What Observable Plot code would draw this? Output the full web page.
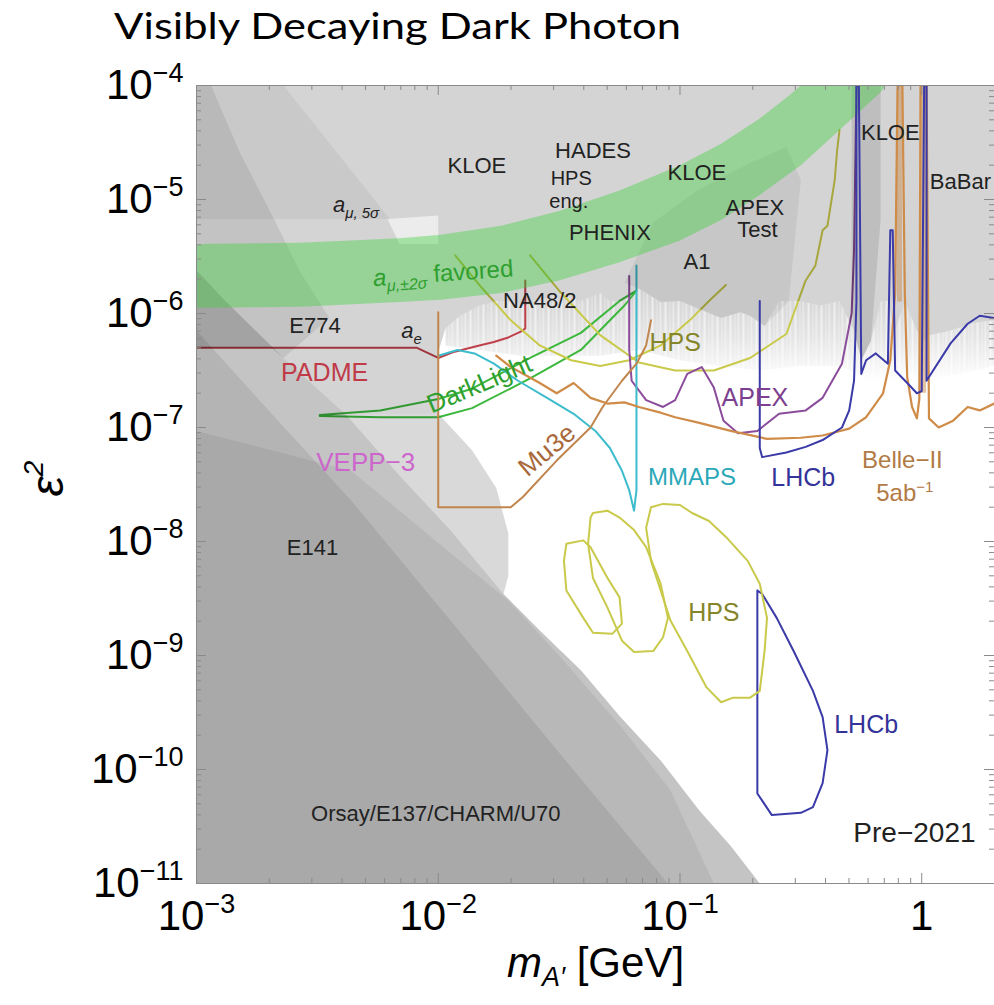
<!DOCTYPE html>
<html><head><meta charset="utf-8">
<script src="https://cdn.jsdelivr.net/npm/d3@7"></script>
<script src="https://cdn.jsdelivr.net/npm/@observablehq/plot@0.6"></script>
<style>
body{margin:0;background:#fff;}
#chart{position:relative;width:994px;height:1005px;}
</style></head><body><div id="chart"></div>
<script>
// All points are [log10(m_A' / GeV), log10(eps^2)].
const xTicks = [1e-3, 1e-2, 1e-1, 1];
const yTicks = [1e-4, 1e-5, 1e-6, 1e-7, 1e-8, 1e-9, 1e-10, 1e-11];

// lower (jagged) edge of the upper excluded envelope, from right to left
const envelopeEdge = [[0.30,-6.06],[0.22,-6.08],[0.12,-6.15],[0.03,-6.19],[0.01,-6.24],[-0.02,-6.15],[-0.07,-5.89],[-0.11,-6.15],[-0.14,-5.89],[-0.17,-5.89],[-0.21,-6.24],[-0.25,-6.41],[-0.28,-6.15],[-0.34,-5.89],[-0.42,-5.93],[-0.50,-5.89],[-0.59,-5.89],[-0.65,-6.11],[-0.71,-6.02],[-0.75,-5.99],[-0.83,-6.04],[-0.92,-5.96],[-1.00,-5.89],[-1.08,-5.90],[-1.17,-5.78],[-1.23,-5.89],[-1.29,-5.89],[-1.33,-5.82],[-1.41,-5.89],[-1.50,-5.82],[-1.58,-5.89],[-1.64,-5.93],[-1.70,-5.89],[-1.76,-5.89],[-1.83,-5.93],[-1.91,-6.02],[-1.97,-6.13]];
// lower edge of the faint spiky zone under the envelope, left to right
const fuzzLower = [[-1.97,-6.28],[-1.83,-6.32],[-1.66,-6.37],[-1.50,-6.37],[-1.33,-6.37],[-1.17,-6.32],[-1.00,-6.41],[-0.83,-6.46],[-0.67,-6.50],[-0.50,-6.46],[-0.34,-6.46],[-0.21,-6.59],[-0.09,-6.59],[0.03,-6.59],[0.30,-6.46]];
const topCorners = [[-3.00,-4.00],[0.30,-4.00]];
const aeEdge = [[-2.00,-6.34],[-2.03,-6.30],[-3.00,-6.30]];
const aMu5Region = [[-3.00,-4.00],[-2.64,-4.00],[-2.20,-5.17],[-3.00,-5.17]];
const leftWedge = [[-3.00,-4.00],[-2.94,-4.00],[-2.82,-4.59],[-2.68,-5.17],[-2.57,-5.64],[-2.45,-6.04],[-2.64,-6.39],[-2.89,-5.87],[-3.00,-5.62]];
const gapPatch = [[-2.21,-5.17],[-2.00,-5.14],[-2.00,-5.39],[-2.16,-5.39]];
const padmeArea = [[-2.69,-6.30],[-2.03,-6.30],[-2.00,-6.34],[-2.00,-6.88],[-2.38,-6.89],[-2.64,-6.39]];
const beamDump = [[-3.00,-5.62],[-2.89,-5.87],[-2.64,-6.39],[-2.38,-6.89],[-2.16,-7.42],[-1.95,-7.90],[-1.73,-8.46],[-1.58,-8.78],[-1.41,-9.13],[-1.25,-9.53],[-1.08,-9.92],[-0.92,-10.36],[-0.79,-10.67],[-0.67,-11.00],[-3.00,-11.00]];
const beamCore = [[-3.00,-6.15],[-2.74,-6.76],[-2.36,-7.64],[-1.95,-8.69],[-1.54,-9.75],[-1.05,-11.00],[-3.00,-11.00]];
const e137 = [[-3.00,-7.03],[-2.36,-7.38],[-1.71,-8.52],[-1.50,-9.00],[-1.25,-9.61],[-1.04,-10.18],[-0.86,-11.00],[-3.00,-11.00]];
const vepp3Lens = [[-2.38,-6.89],[-2.00,-6.88],[-1.86,-7.20],[-1.76,-7.53],[-1.71,-7.93],[-1.71,-8.30],[-1.73,-8.46],[-1.95,-7.90],[-2.16,-7.42]];
const a1Region = [[-1.23,-5.73],[-1.11,-5.20],[-0.93,-4.92],[-0.71,-4.68],[-0.56,-4.54],[-0.50,-4.83],[-0.55,-5.89],[-0.65,-6.11],[-0.71,-6.02],[-0.75,-5.99],[-0.83,-6.04],[-0.92,-5.96],[-1.00,-5.89],[-1.08,-5.90],[-1.17,-5.78]];
const kloeEta = [[-0.29,-4.00],[-0.17,-4.00],[-0.17,-5.18],[-0.21,-6.24],[-0.25,-6.41],[-0.28,-6.15],[-0.29,-5.89]];

// a_mu +-2 sigma favoured band
const aMuUpper = [[-3.00,-5.39],[-2.57,-5.38],[-2.16,-5.34],[-1.99,-5.31],[-1.74,-5.23],[-1.50,-5.10],[-1.25,-4.92],[-1.00,-4.70],[-0.83,-4.51],[-0.67,-4.29],[-0.55,-4.09],[-0.50,-4.00]];
const aMuLower = [[-3.00,-5.95],[-2.57,-5.94],[-2.16,-5.90],[-1.99,-5.88],[-1.74,-5.82],[-1.50,-5.71],[-1.25,-5.55],[-1.00,-5.36],[-0.83,-5.18],[-0.67,-4.96],[-0.50,-4.70],[-0.34,-4.39],[-0.17,-4.06],[-0.15,-4.00]];

// projections / curves
const padme = [[-3.00,-6.30],[-2.09,-6.30],[-2.00,-6.39],[-1.94,-6.34],[-1.83,-6.28],[-1.77,-6.25],[-1.71,-6.21],[-1.65,-6.15],[-1.64,-6.13],[-1.64,-5.71]];
const darkLight = [[-2.49,-6.89],[-2.24,-6.85],[-2.00,-6.75],[-1.86,-6.66],[-1.62,-6.39],[-1.41,-6.17],[-1.25,-5.89],[-1.18,-5.80],[-1.23,-5.93],[-1.41,-6.32],[-1.62,-6.57],[-1.86,-6.83],[-2.00,-6.91],[-2.24,-6.91],[-2.49,-6.90],[-2.49,-6.89]];
const mu3e = [[-2.00,-5.99],[-2.00,-7.70],[-1.70,-7.70],[-1.65,-7.61],[-1.51,-7.29],[-1.37,-7.00],[-1.32,-6.82],[-1.24,-6.59],[-1.18,-6.44],[-1.14,-6.28],[-1.12,-6.06]];
const belle2 = [[-1.76,-6.37],[-1.70,-6.47],[-1.64,-6.54],[-1.58,-6.61],[-1.51,-6.70],[-1.44,-6.61],[-1.37,-6.74],[-1.30,-6.79],[-1.23,-6.78],[-1.17,-6.82],[-1.08,-6.87],[-1.02,-6.91],[-0.92,-6.96],[-0.79,-7.03],[-0.64,-7.10],[-0.50,-7.09],[-0.41,-7.07],[-0.30,-7.01],[-0.23,-6.91],[-0.16,-6.70],[-0.13,-6.41],[-0.11,-5.82],[-0.10,-4.00],[-0.08,-4.00],[-0.07,-5.82],[-0.06,-6.56],[-0.04,-6.82],[-0.02,-6.92],[-0.01,-6.75],[-0.005,-4.00],[0.02,-4.00],[0.03,-6.92],[0.07,-7.00],[0.13,-6.94],[0.19,-6.82],[0.24,-6.85],[0.30,-6.79]];
const belleSpikes = [[-0.10,-0.08,-5.9],[-0.005,0.02,-6.7]];
const lhcb = [[-0.67,-5.89],[-0.67,-7.18],[-0.66,-7.26],[-0.56,-7.22],[-0.48,-7.17],[-0.41,-7.11],[-0.33,-7.00],[-0.30,-6.85],[-0.28,-6.59],[-0.27,-5.89],[-0.27,-4.00],[-0.26,-4.00],[-0.25,-6.53],[-0.23,-6.41],[-0.19,-6.35],[-0.14,-6.44],[-0.13,-5.27],[-0.12,-5.27],[-0.11,-6.50],[-0.06,-6.61],[-0.02,-6.70],[0.00,-6.68],[0.01,-4.00],[0.02,-4.00],[0.02,-6.59],[0.12,-6.26],[0.19,-6.09],[0.24,-6.02],[0.30,-6.04]];
const lhcbDisplaced = [[-0.68,-8.43],[-0.68,-10.21],[-0.62,-10.40],[-0.50,-10.38],[-0.45,-10.33],[-0.41,-10.12],[-0.39,-9.83],[-0.41,-9.54],[-0.45,-9.31],[-0.53,-8.96],[-0.60,-8.67],[-0.66,-8.46],[-0.68,-8.43]];
const mmaps = [[-2.00,-6.37],[-1.92,-6.32],[-1.85,-6.35],[-1.77,-6.44],[-1.67,-6.59],[-1.55,-6.74],[-1.44,-6.88],[-1.35,-7.03],[-1.29,-7.18],[-1.24,-7.38],[-1.21,-7.55],[-1.19,-7.73],[-1.18,-7.55],[-1.18,-5.58]];
const apex = [[-1.21,-5.67],[-1.21,-6.32],[-1.20,-6.59],[-1.14,-6.76],[-1.07,-6.82],[-1.02,-6.76],[-0.97,-6.53],[-0.91,-6.47],[-0.86,-6.65],[-0.82,-6.94],[-0.76,-7.05],[-0.68,-7.03],[-0.59,-6.88],[-0.48,-6.85],[-0.41,-6.74],[-0.33,-6.44],[-0.29,-6.00],[-0.28,-5.45],[-0.27,-4.00]];
const hps1 = [[-1.93,-5.49],[-1.83,-5.75],[-1.70,-6.06],[-1.58,-6.28],[-1.45,-6.41],[-1.33,-6.46],[-1.21,-6.41],[-1.08,-6.28],[-0.96,-6.06],[-0.88,-5.89],[-0.81,-5.75]];
const hps2 = [[-1.62,-5.49],[-1.50,-5.80],[-1.33,-6.19],[-1.17,-6.43],[-1.02,-6.50],[-0.86,-6.50],[-0.71,-6.39],[-0.56,-6.18],[-0.48,-5.71],[-0.44,-5.58],[-0.41,-5.27],[-0.39,-5.23],[-0.36,-4.83],[-0.35,-4.57],[-0.34,-4.39]];
const hpsLoopA = [[-1.47,-8.02],[-1.40,-7.99],[-1.37,-8.05],[-1.30,-8.32],[-1.25,-8.49],[-1.24,-8.72],[-1.28,-8.81],[-1.36,-8.80],[-1.40,-8.67],[-1.47,-8.43],[-1.48,-8.17],[-1.47,-8.02]];
const hpsLoopB = [[-1.36,-7.75],[-1.30,-7.73],[-1.25,-7.79],[-1.19,-7.90],[-1.14,-8.05],[-1.08,-8.37],[-1.05,-8.67],[-1.07,-8.84],[-1.11,-8.96],[-1.19,-8.97],[-1.24,-8.87],[-1.30,-8.58],[-1.36,-8.32],[-1.38,-8.02],[-1.37,-7.79],[-1.36,-7.75]];
const hpsLoopC = [[-1.12,-7.70],[-1.07,-7.67],[-1.00,-7.68],[-0.95,-7.75],[-0.88,-7.82],[-0.81,-7.96],[-0.72,-8.17],[-0.67,-8.37],[-0.64,-8.67],[-0.65,-8.96],[-0.67,-9.31],[-0.71,-9.37],[-0.78,-9.37],[-0.83,-9.41],[-0.89,-9.28],[-0.97,-8.96],[-1.04,-8.69],[-1.08,-8.43],[-1.12,-8.17],[-1.14,-7.88],[-1.12,-7.70]];

// labels: [text, log10 m, log10 eps^2]
const labelsDark = [["KLOE",-1.84,-4.71],["HADES",-1.36,-4.57],["KLOE",-0.93,-4.77],["PHENIX",-1.29,-5.29],["APEX",-0.69,-5.07],["Test",-0.68,-5.27],["A1",-0.93,-5.55],["NA48/2",-1.58,-5.89],["KLOE",-0.13,-4.42],["BaBar",0.16,-4.85],["E774",-2.51,-6.11],["E141",-2.52,-8.06],["Orsay/E137/CHARM/U70",-2.01,-10.39]];
const labelsHpsEng = [["HPS",-1.45,-4.82],["eng.",-1.46,-5.02]];
const labelsRich = [["aMu5",-2.34,-5.05],["aE",-2.11,-6.15]];
const labelFavored = [["aMu2",-1.98,-5.65]];
const labelPre = [["Pre−2021",-0.03,-10.56]];
const labelsPadme = [["PADME",-2.47,-6.52]];
const labelsVepp = [["VEPP−3",-2.30,-7.31]];
const labelsHps = [["HPS",-1.02,-6.26],["HPS",-0.86,-8.63]];
const labelsApex = [["APEX",-0.69,-6.74]];
const labelsMmaps = [["MMAPS",-0.95,-7.44]];
const labelsLhcb = [["LHCb",-0.49,-7.44],["LHCb",-0.23,-9.61]];
const labelsBelle = [["Belle−II",-0.08,-7.29],["b5ab",-0.07,-7.58]];
const labelDarkLight = [["DarkLight",-1.83,-6.62]];
const labelMu3e = [["Mu3e",-1.55,-7.20]];

// ---------------------------------------------------------------
const P = a => a.map(([lm, le]) => ({m: 10 ** lm, e: 10 ** le}));
const poly = (arr, o) => Plot.line(P(arr), {x: "m", y: "e", stroke: "none", clip: true, ...o});
const curve = (arr, color, o = {}) => Plot.line(P(arr), {x: "m", y: "e", fill: "none", stroke: color, strokeWidth: 2, strokeLinejoin: "round", clip: true, ...o});
const lab = (arr, o) => Plot.text(arr, {x: d => 10 ** d[1], y: d => 10 ** d[2], text: d => d[0], fontSize: 22, fill: "#222", ...o});

const topBand = [...topCorners, ...envelopeEdge, ...aeEdge];
const fuzz = [...envelopeEdge, ...fuzzLower];
const greenBand = [...aMuUpper, ...aMuLower.slice().reverse()];

const minorX = [], minorY = [];
for (let k = -3; k <= 0; k++) for (let j = 2; j <= 9; j++) { const v = j * 10 ** k; if (v <= 2) minorX.push(v); }
for (let k = -11; k <= -5; k++) for (let j = 2; j <= 9; j++) minorY.push(j * 10 ** k);
const innerH = 798, innerW = 798;
const tickColor = "#8a8a8a";
const supFmt = d => d === 1 ? "1" : "10^" + Math.round(Math.log10(d));

const plot = Plot.plot({
  width: 994, height: 1005,
  marginLeft: 196, marginRight: 0, marginTop: 85, marginBottom: 122,
  x: {type: "log", domain: [1e-3, 2], label: null},
  y: {type: "log", domain: [1e-11, 1e-4], label: null},
  style: {fontFamily: "'Liberation Sans', Arial, sans-serif", background: "white", color: "black"},
  marks: [
    poly(fuzz, {fill: "url(#fuzzGrad)"}),
    poly(fuzz, {fill: "url(#spikes)"}),
    curve(padme, "#c0404c"),
    poly(darkLight, {stroke: "#3cb83c", strokeWidth: 2, fill: "none"}),
    curve(hps1, "#c9c94a"),
    curve(hps2, "#c9c94a"),
    curve(apex, "#8c4c9c"),
    curve(mmaps, "#3cbccc"),
    poly(topBand, {fill: "#000", fillOpacity: 0.17}),
    poly(aMu5Region, {fill: "#000", fillOpacity: 0.05}),
    poly(leftWedge, {fill: "#000", fillOpacity: 0.08}),
    poly(gapPatch, {fill: "#fff", fillOpacity: 0.55}),
    poly(padmeArea, {fill: "#000", fillOpacity: 0.17}),
    poly(beamDump, {fill: "#000", fillOpacity: 0.23}),
    poly(beamCore, {fill: "#000", fillOpacity: 0.08}),
    poly(e137, {fill: "#000", fillOpacity: 0.06}),
    poly(vepp3Lens, {fill: "#000", fillOpacity: 0.15}),
    poly(a1Region, {fill: "#000", fillOpacity: 0.06}),
    poly(kloeEta, {fill: "#000", fillOpacity: 0.1}),
    poly(greenBand, {fill: "#3cd23c", fillOpacity: 0.4}),
    curve(mu3e, "#c0864e"),
    Plot.rect(belleSpikes, {x1: d => 10 ** d[0], x2: d => 10 ** d[1], y1: d => 10 ** d[2], y2: 1e-4, fill: "#c8925c", fillOpacity: 0.55, clip: true}),
    curve(belle2, "#cf8b48", {strokeWidth: 2.2}),
    curve(lhcb, "#3a3aa8"),
    curve(lhcbDisplaced, "#3a3aa8"),
    curve(hpsLoopA, "#c9c94a"),
    curve(hpsLoopB, "#c9c94a"),
    curve(hpsLoopC, "#c9c94a"),
    lab(labelsDark, {}),
    lab(labelsHpsEng, {fontSize: 20}),
    lab(labelsRich, {fontStyle: "italic", fontSize: 22}),
    lab(labelFavored, {fill: "#2f9f2f", fontSize: 24, rotate: -4}),
    lab(labelPre, {fontSize: 28}),
    lab(labelsPadme, {fill: "#c03a48", fontSize: 25}),
    lab(labelsVepp, {fill: "#cc66cc", fontSize: 26}),
    lab(labelsHps, {fill: "#85852a", fontSize: 25}),
    lab(labelsApex, {fill: "#7d3f8f", fontSize: 25}),
    lab(labelsMmaps, {fill: "#2aa8b8", fontSize: 24}),
    lab(labelsLhcb, {fill: "#333399", fontSize: 25}),
    lab(labelsBelle, {fill: "#b27a45", fontSize: 24}),
    lab(labelDarkLight, {fill: "#2f9f2f", fontSize: 26, rotate: -23}),
    lab(labelMu3e, {fill: "#a8683a", fontSize: 26, rotate: -40}),
    Plot.frame({stroke: tickColor}),
    Plot.tickX(minorX, {x: d => d, stroke: tickColor, insetTop: innerH - 5}),
    Plot.tickX(minorX, {x: d => d, stroke: tickColor, insetBottom: innerH - 5}),
    Plot.tickX(xTicks, {x: d => d, stroke: tickColor, insetTop: innerH - 10}),
    Plot.tickX(xTicks, {x: d => d, stroke: tickColor, insetBottom: innerH - 10}),
    Plot.tickY(minorY, {y: d => d, stroke: tickColor, insetRight: innerW - 5}),
    Plot.tickY(minorY, {y: d => d, stroke: tickColor, insetLeft: innerW - 5}),
    Plot.tickY(yTicks, {y: d => d, stroke: tickColor, insetRight: innerW - 10}),
    Plot.tickY(yTicks, {y: d => d, stroke: tickColor, insetLeft: innerW - 10}),
    Plot.axisX({ticks: xTicks, tickSize: 0, tickPadding: 17, fontSize: 42, tickFormat: supFmt, label: null}),
    Plot.axisY({ticks: yTicks, tickSize: 0, tickPadding: 13, fontSize: 42, tickFormat: supFmt, label: null}),
    Plot.text(["mA"], {frameAnchor: "bottom", dy: 93, fontSize: 42, fill: "black"}),
    Plot.text(["eps"], {frameAnchor: "left", dx: -148, dy: 12, rotate: -90, fontSize: 46, fill: "black", fontStyle: "italic"})
  ]
});

const svg = d3.select(plot);
svg.insert("defs", ":first-child").html(
  `<linearGradient id="fuzzGrad" x1="0" y1="0" x2="0" y2="1">
     <stop offset="0" stop-color="#d2d2d2"/><stop offset="0.55" stop-color="#e6e6e6"/><stop offset="1" stop-color="#ffffff"/>
   </linearGradient>
   <pattern id="spikes" width="13" height="40" patternUnits="userSpaceOnUse">
     <rect x="1" width="2" height="40" fill="#fff" opacity="0.55"/>
     <rect x="6" width="1" height="40" fill="#fff" opacity="0.35"/>
     <rect x="9" width="1.5" height="40" fill="#fff" opacity="0.45"/>
   </pattern>`);

const rich = {
  aMu5: `a<tspan font-size="15" dy="6">μ, 5σ</tspan>`,
  aE: `a<tspan font-size="15" dy="6">e</tspan>`,
  aMu2: `<tspan font-style="italic">a</tspan><tspan font-style="italic" font-size="16" dy="6">μ,±2σ</tspan><tspan dy="-6"> favored</tspan>`,
  b5ab: `5ab<tspan font-size="15" dy="-9">−1</tspan>`,
  mA: `<tspan font-style="italic">m</tspan><tspan font-style="italic" font-size="27" dy="9">A′</tspan><tspan dy="-9"> [GeV]</tspan>`,
  eps: `ε<tspan font-size="28" dy="-20">2</tspan>`
};
svg.selectAll("text").each(function () {
  const t = this.textContent;
  if (rich[t]) { this.innerHTML = rich[t]; return; }
  const m = /^10\^(-?\d+)$/.exec(t);
  if (m) this.innerHTML = `10<tspan font-size="27" dy="-17">−${Math.abs(+m[1])}</tspan>`;
});

svg.append("text")
  .attr("x", 114).attr("y", 39)
  .attr("text-anchor", "start")
  .attr("font-family", "Lato, 'Open Sans', sans-serif")
  .attr("font-size", 36)
  .attr("textLength", 567).attr("lengthAdjust", "spacingAndGlyphs")
  .attr("fill", "black")
  .text("Visibly Decaying Dark Photon");

document.getElementById("chart").appendChild(plot);
</script></body></html>
